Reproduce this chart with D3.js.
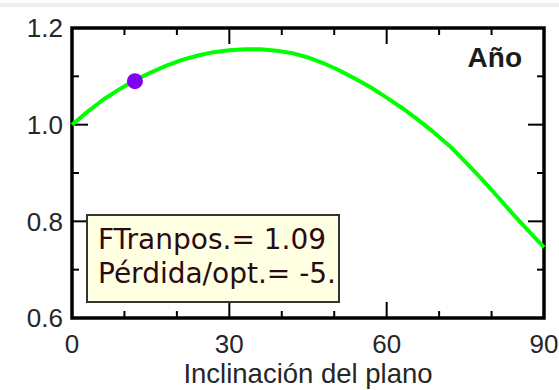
<!DOCTYPE html>
<html>
<head>
<meta charset="utf-8">
<script src="https://cdn.jsdelivr.net/npm/d3@7"></script>
<style>
  html, body { margin: 0; padding: 0; background: #ffffff; }
  svg { display: block; }
</style>
</head>
<body>
<svg id="chart" width="559" height="390"></svg>
<script>
// Transposition factor vs. plane tilt (annual)
const angles = [0, 3, 6, 9, 12, 15, 18, 21, 24, 27, 30, 33, 36, 39, 42, 45,
                48, 51, 54, 57, 60, 63, 66, 69, 72, 75, 78, 81, 84, 87, 90];
const factor = [1.000, 1.027, 1.052, 1.073, 1.092, 1.108, 1.122, 1.134, 1.143,
                1.150, 1.154, 1.156, 1.156, 1.153, 1.148, 1.139, 1.127, 1.112,
                1.095, 1.077, 1.056, 1.034, 1.010, 0.984, 0.956, 0.923, 0.889,
                0.853, 0.816, 0.781, 0.746];

// Current plane
const currentTilt = [12];
const currentFactor = [1.09];

const xTickLabels = [0, 30, 60, 90];
const xMinorTicks = [10, 20, 40, 50, 70, 80];
const yTickLabels = [0.6, 0.8, 1.0, 1.2];
const yMinorTicks = [0.7, 0.9, 1.1];

const periodLabel = "Año";
const xTitle = "Inclinación del plano";
const infoLines = ["FTranpos.= 1.09", "Pérdida/opt.= -5."];

const svg = d3.select("#chart");

const plotL = 72, plotR = 544, plotT = 28, plotB = 318;
const x = d3.scaleLinear().domain([0, 90]).range([plotL, plotR]);
const y = d3.scaleLinear().domain([0.6, 1.2]).range([plotB, plotT]);

// thin grey strip along the window top
svg.append("rect").attr("x", 0).attr("y", 3).attr("width", 559).attr("height", 4)
  .attr("fill", "#eeeeee");

const tickFont = "'Liberation Sans', Arial, sans-serif";

// inward ticks on all four sides
const majorLen = 16, minorLen = 7;
const tickG = svg.append("g").attr("stroke", "#000").attr("stroke-width", 2);
function vTicks(values, len) {
  values.forEach(v => {
    tickG.append("line").attr("x1", x(v)).attr("x2", x(v))
      .attr("y1", plotB).attr("y2", plotB - len);
    tickG.append("line").attr("x1", x(v)).attr("x2", x(v))
      .attr("y1", plotT).attr("y2", plotT + len);
  });
}
function hTicks(values, len) {
  values.forEach(v => {
    tickG.append("line").attr("y1", y(v)).attr("y2", y(v))
      .attr("x1", plotL).attr("x2", plotL + len);
    tickG.append("line").attr("y1", y(v)).attr("y2", y(v))
      .attr("x1", plotR).attr("x2", plotR - len);
  });
}
vTicks(xTickLabels.slice(1, -1), majorLen);
vTicks(xMinorTicks, minorLen);
hTicks(yTickLabels.slice(1, -1), majorLen);
hTicks(yMinorTicks, minorLen);

// frame
svg.append("rect").attr("x", plotL).attr("y", plotT)
  .attr("width", plotR - plotL).attr("height", plotB - plotT)
  .attr("fill", "none").attr("stroke", "#000").attr("stroke-width", 3.5);

// curve
const line = d3.line().x((d, i) => x(angles[i])).y(d => y(d));
svg.append("path").datum(factor).attr("d", line)
  .attr("fill", "none").attr("stroke", "#00ff00").attr("stroke-width", 4)
  .attr("stroke-linejoin", "round");

// current tilt marker
svg.selectAll("circle.cur").data(currentTilt).enter().append("circle")
  .attr("class", "cur")
  .attr("cx", d => x(d)).attr("cy", (d, i) => y(currentFactor[i]))
  .attr("r", 8).attr("fill", "#8000f0");

// tick labels
svg.append("g").selectAll("text").data(yTickLabels).enter().append("text")
  .attr("x", 63).attr("y", d => y(d)).attr("dy", "0.36em")
  .attr("text-anchor", "end").attr("font-family", tickFont)
  .attr("font-size", 26).attr("fill", "#262626")
  .text(d => d.toFixed(1));

svg.append("g").selectAll("text").data(xTickLabels).enter().append("text")
  .attr("x", d => x(d)).attr("y", 353)
  .attr("text-anchor", "middle").attr("font-family", tickFont)
  .attr("font-size", 26).attr("fill", "#262626")
  .text(d => d);

// axis title
svg.append("text").attr("x", (plotL + plotR) / 2).attr("y", 383)
  .attr("text-anchor", "middle").attr("font-family", tickFont)
  .attr("font-size", 27.5).attr("fill", "#262626").text(xTitle);

// period label
svg.append("text").attr("x", 522).attr("y", 67)
  .attr("text-anchor", "end").attr("font-family", tickFont)
  .attr("font-weight", "bold").attr("font-size", 28).attr("fill", "#1c1c1c")
  .text(periodLabel);

// info box
const bx = 87, by = 215, bw = 252, bh = 87;
svg.append("clipPath").attr("id", "boxClip").append("rect")
  .attr("x", bx).attr("y", by).attr("width", bw).attr("height", bh);
svg.append("rect").attr("x", bx).attr("y", by).attr("width", bw).attr("height", bh)
  .attr("fill", "#ffffe1").attr("stroke", "#333").attr("stroke-width", 2);
svg.append("g").attr("clip-path", "url(#boxClip)")
  .selectAll("text").data(infoLines).enter().append("text")
  .attr("x", 98).attr("y", (d, i) => 249 + i * 34)
  .attr("font-family", "'DejaVu Sans', Verdana, sans-serif")
  .attr("font-size", 28).attr("fill", "#2b0a16")
  .text(d => d);
</script>
</body>
</html>
